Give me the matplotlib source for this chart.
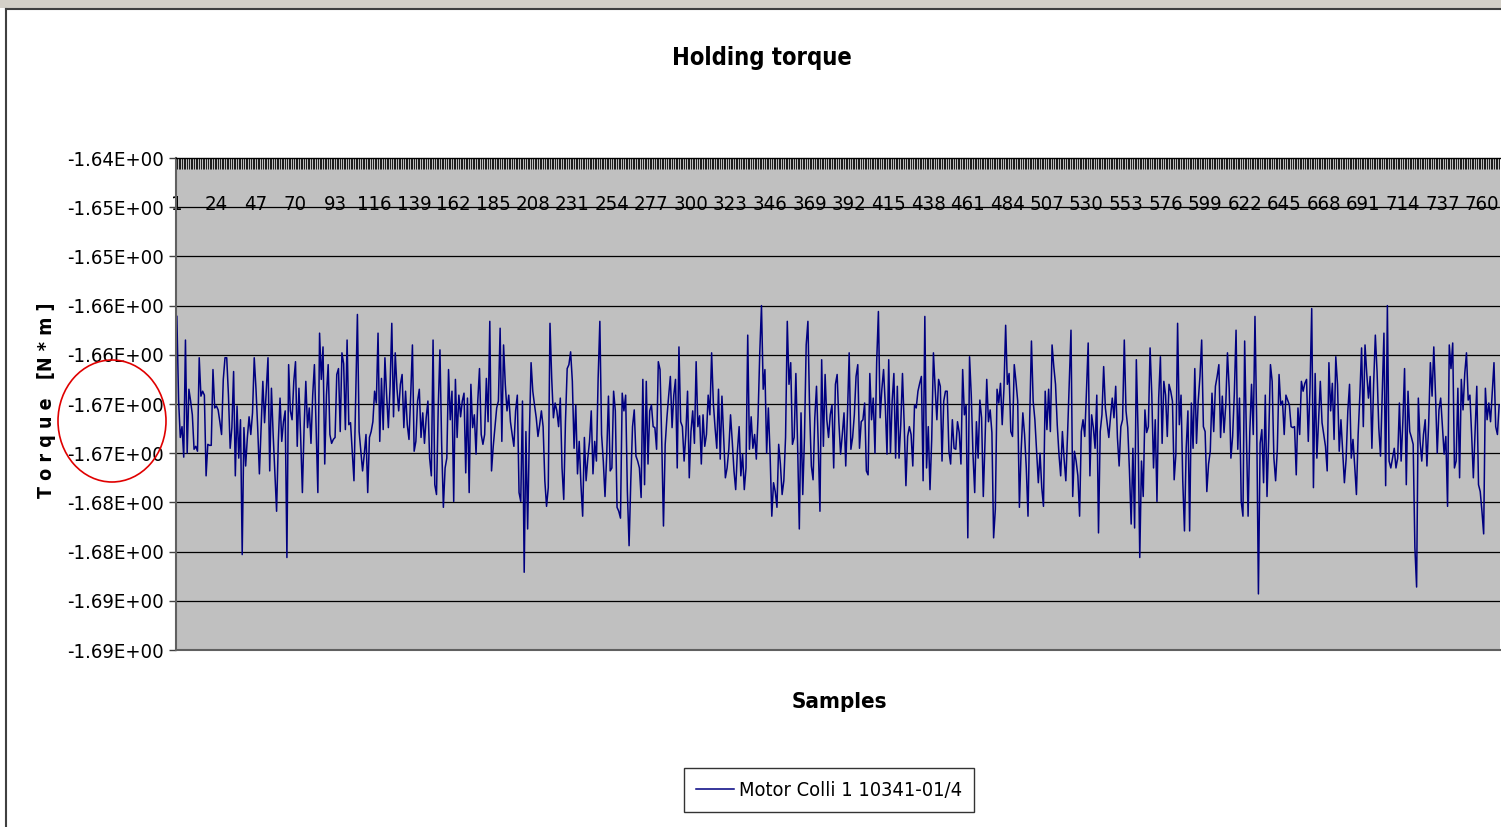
import matplotlib
matplotlib.use("Agg")
import matplotlib.pyplot as plt
from matplotlib.patches import Ellipse, Rectangle
from matplotlib.lines import Line2D
from matplotlib import font_manager

title = "Holding torque"
x_label = "Samples"
y_label = "T o r q u e   [N * m ]"
series_name = "Motor Colli 1 10341-01/4"

ytick_values = [-1.640, -1.645, -1.650, -1.655, -1.660, -1.665, -1.670, -1.675, -1.680, -1.685, -1.690]
ytick_labels = ["-1.64E+00", "-1.65E+00", "-1.65E+00", "-1.66E+00", "-1.66E+00", "-1.67E+00",
                "-1.67E+00", "-1.68E+00", "-1.68E+00", "-1.69E+00", "-1.69E+00"]
xtick_labels = [1, 24, 47, 70, 93, 116, 139, 162, 185, 208, 231, 254, 277, 300, 323, 346, 369, 392,
                415, 438, 461, 484, 507, 530, 553, 576, 599, 622, 645, 668, 691, 714, 737, 760]

torque = [
    -1.6561, -1.6646, -1.6684, -1.6673, -1.6704, -1.6585, -1.6700, -1.6635, -1.6647, -1.6661,
    -1.6696, -1.6693, -1.6698, -1.6603, -1.6642, -1.6637, -1.6641, -1.6723, -1.6691, -1.6692,
    -1.6692, -1.6615, -1.6654, -1.6652, -1.6656, -1.6668, -1.6681, -1.6625, -1.6603, -1.6603,
    -1.6641, -1.6695, -1.6674, -1.6617, -1.6723, -1.6652, -1.6705, -1.6666, -1.6803, -1.6674,
    -1.6713, -1.6684, -1.6663, -1.6681, -1.6659, -1.6603, -1.6634, -1.6674, -1.6721, -1.6674,
    -1.6627, -1.6669, -1.6637, -1.6603, -1.6718, -1.6634, -1.6681, -1.6721, -1.6759, -1.6688,
    -1.6644, -1.6688, -1.6668, -1.6657,
    -1.6806, -1.6610, -1.6657, -1.6666, -1.6627, -1.6607, -1.6693, -1.6634, -1.6684, -1.6740,
    -1.6674, -1.6627, -1.6674, -1.6654, -1.6690, -1.6641, -1.6610, -1.6674, -1.6740, -1.6578,
    -1.6625, -1.6592, -1.6711, -1.6641, -1.6610, -1.6681, -1.6690, -1.6686, -1.6684, -1.6620,
    -1.6614, -1.6678, -1.6598, -1.6609, -1.6676, -1.6585, -1.6671, -1.6669, -1.6698, -1.6728,
    -1.6642, -1.6559, -1.6678, -1.6698, -1.6718, -1.6701, -1.6681, -1.6740, -1.6684, -1.6678,
    -1.6668, -1.6637, -1.6649, -1.6578, -1.6688, -1.6624, -1.6676, -1.6603, -1.6641, -1.6674,
    -1.6632, -1.6568, -1.6663, -1.6598, -1.6634,
    -1.6657, -1.6630, -1.6620, -1.6674, -1.6637, -1.6671, -1.6686, -1.6641, -1.6590, -1.6698,
    -1.6688, -1.6647, -1.6635, -1.6684, -1.6659, -1.6690, -1.6664, -1.6647, -1.6705, -1.6723,
    -1.6585, -1.6732, -1.6742, -1.6654, -1.6595, -1.6691, -1.6755, -1.6715, -1.6705, -1.6615,
    -1.6666, -1.6637, -1.6749, -1.6625, -1.6684, -1.6641, -1.6663, -1.6647, -1.6639, -1.6720,
    -1.6644, -1.6740, -1.6630, -1.6674, -1.6661, -1.6701, -1.6647, -1.6614, -1.6681, -1.6691,
    -1.6681, -1.6624, -1.6668, -1.6566, -1.6718, -1.6693, -1.6674, -1.6654, -1.6647, -1.6573,
    -1.6688, -1.6590, -1.6630, -1.6657,
    -1.6641, -1.6668, -1.6681, -1.6693, -1.6657, -1.6641, -1.6740, -1.6749, -1.6647, -1.6821,
    -1.6678, -1.6777, -1.6681, -1.6608, -1.6637, -1.6651, -1.6664, -1.6683, -1.6671, -1.6657,
    -1.6673, -1.6728, -1.6754, -1.6735, -1.6568, -1.6624, -1.6664, -1.6649, -1.6657, -1.6673,
    -1.6644, -1.6715, -1.6747, -1.6668, -1.6614, -1.6610, -1.6597, -1.6627, -1.6695, -1.6651,
    -1.6721, -1.6688, -1.6732, -1.6764, -1.6684, -1.6728, -1.6705, -1.6688, -1.6657, -1.6721,
    -1.6688, -1.6708, -1.6624, -1.6566, -1.6681, -1.6708, -1.6744, -1.6701, -1.6642, -1.6718,
    -1.6715, -1.6637, -1.6657,
    -1.6755, -1.6759, -1.6766, -1.6639, -1.6657, -1.6641, -1.6739, -1.6794, -1.6728, -1.6673,
    -1.6656, -1.6703, -1.6708, -1.6715, -1.6745, -1.6625, -1.6732, -1.6627, -1.6711, -1.6657,
    -1.6651, -1.6673, -1.6674, -1.6696, -1.6607, -1.6615, -1.6688, -1.6774, -1.6691, -1.6664,
    -1.6642, -1.6622, -1.6674, -1.6641, -1.6625, -1.6715, -1.6592, -1.6668, -1.6673, -1.6708,
    -1.6681, -1.6637, -1.6725, -1.6678, -1.6657, -1.6690, -1.6607, -1.6673, -1.6662, -1.6711,
    -1.6661, -1.6693, -1.6681, -1.6641, -1.6661, -1.6598, -1.6649, -1.6674, -1.6695, -1.6635,
    -1.6706, -1.6642, -1.6684, -1.6725,
    -1.6715, -1.6696, -1.6661, -1.6688, -1.6718, -1.6737, -1.6698, -1.6673, -1.6723, -1.6701,
    -1.6737, -1.6715, -1.6580, -1.6696, -1.6663, -1.6695, -1.6681, -1.6706, -1.6663, -1.6598,
    -1.6550, -1.6635, -1.6615, -1.6700, -1.6654, -1.6701, -1.6764, -1.6730, -1.6739, -1.6755,
    -1.6691, -1.6711, -1.6742, -1.6728, -1.6684, -1.6566, -1.6630, -1.6608, -1.6691, -1.6684,
    -1.6619, -1.6691, -1.6777, -1.6659, -1.6742, -1.6684, -1.6590, -1.6566, -1.6657, -1.6713,
    -1.6727, -1.6664, -1.6632, -1.6690, -1.6759, -1.6605, -1.6693, -1.6620, -1.6666, -1.6684,
    -1.6661, -1.6651, -1.6715, -1.6630,
    -1.6620, -1.6668, -1.6701, -1.6681, -1.6659, -1.6713, -1.6661, -1.6598, -1.6696, -1.6684,
    -1.6661, -1.6622, -1.6610, -1.6695, -1.6668, -1.6666, -1.6649, -1.6718, -1.6722, -1.6619,
    -1.6666, -1.6644, -1.6700, -1.6607, -1.6556, -1.6664, -1.6635, -1.6615, -1.6651, -1.6701,
    -1.6605, -1.6700, -1.6647, -1.6619, -1.6705, -1.6632, -1.6705, -1.6671, -1.6619, -1.6671,
    -1.6733, -1.6683, -1.6673, -1.6681, -1.6713, -1.6651, -1.6654, -1.6637, -1.6629, -1.6622,
    -1.6728, -1.6561, -1.6715, -1.6673, -1.6737, -1.6686, -1.6598, -1.6634, -1.6666, -1.6625,
    -1.6632, -1.6708, -1.6647, -1.6637,
    -1.6637, -1.6698, -1.6711, -1.6666, -1.6695, -1.6696, -1.6668, -1.6679, -1.6711, -1.6615,
    -1.6661, -1.6651, -1.6786, -1.6602, -1.6641, -1.6701, -1.6740, -1.6668, -1.6705, -1.6646,
    -1.6664, -1.6744, -1.6688, -1.6625, -1.6668, -1.6656, -1.6679, -1.6786, -1.6757, -1.6635,
    -1.6649, -1.6629, -1.6671, -1.6635, -1.6570, -1.6630, -1.6619, -1.6678, -1.6683, -1.6610,
    -1.6627, -1.6647, -1.6755, -1.6698, -1.6659, -1.6681, -1.6715, -1.6764, -1.6664, -1.6586,
    -1.6647, -1.6666, -1.6698, -1.6730, -1.6700, -1.6735, -1.6754, -1.6637, -1.6676, -1.6635,
    -1.6678, -1.6590, -1.6612, -1.6630,
    -1.6671, -1.6701, -1.6723, -1.6678, -1.6706, -1.6728, -1.6681, -1.6627, -1.6575, -1.6744,
    -1.6698, -1.6708, -1.6723, -1.6764, -1.6678, -1.6666, -1.6683, -1.6637, -1.6588, -1.6723,
    -1.6661, -1.6674, -1.6695, -1.6641, -1.6781, -1.6678, -1.6661, -1.6612, -1.6654, -1.6669,
    -1.6684, -1.6663, -1.6644, -1.6664, -1.6632, -1.6684, -1.6713, -1.6673, -1.6666, -1.6585,
    -1.6657, -1.6674, -1.6718, -1.6772, -1.6695, -1.6776, -1.6605, -1.6678, -1.6806, -1.6708,
    -1.6744, -1.6656, -1.6679, -1.6673, -1.6593, -1.6641, -1.6715, -1.6666, -1.6749, -1.6644,
    -1.6602, -1.6690, -1.6627, -1.6641,
    -1.6683, -1.6630, -1.6637, -1.6647, -1.6727, -1.6701, -1.6568, -1.6671, -1.6641, -1.6728,
    -1.6779, -1.6695, -1.6657, -1.6779, -1.6649, -1.6695, -1.6614, -1.6690, -1.6647, -1.6622,
    -1.6585, -1.6673, -1.6678, -1.6739, -1.6711, -1.6698, -1.6639, -1.6678, -1.6632, -1.6622,
    -1.6610, -1.6684, -1.6642, -1.6679, -1.6651, -1.6598, -1.6634, -1.6705, -1.6683, -1.6639,
    -1.6575, -1.6696, -1.6644, -1.6749, -1.6764, -1.6586, -1.6681, -1.6764, -1.6678, -1.6630,
    -1.6681, -1.6561, -1.6668, -1.6843, -1.6690, -1.6676, -1.6730, -1.6641, -1.6744, -1.6684,
    -1.6610, -1.6627, -1.6705, -1.6728,
    -1.6696, -1.6620, -1.6651, -1.6647, -1.6681, -1.6641, -1.6646, -1.6651, -1.6673, -1.6674,
    -1.6673, -1.6722, -1.6654, -1.6681, -1.6627, -1.6637, -1.6629, -1.6625, -1.6688, -1.6634,
    -1.6553, -1.6735, -1.6619, -1.6705, -1.6666, -1.6627, -1.6669, -1.6681, -1.6693, -1.6718,
    -1.6608, -1.6657, -1.6629, -1.6686, -1.6602, -1.6630, -1.6698, -1.6666, -1.6698, -1.6730,
    -1.6706, -1.6657, -1.6630, -1.6705, -1.6686, -1.6713, -1.6742, -1.6681, -1.6641, -1.6593,
    -1.6673, -1.6590, -1.6619, -1.6644, -1.6622, -1.6695, -1.6630, -1.6580, -1.6617, -1.6674,
    -1.6703, -1.6642, -1.6578, -1.6733,
    -1.6550, -1.6708, -1.6715, -1.6705, -1.6695, -1.6715, -1.6705, -1.6649, -1.6708, -1.6668,
    -1.6614, -1.6732, -1.6637, -1.6678, -1.6684, -1.6691, -1.6796, -1.6836, -1.6644, -1.6688,
    -1.6708, -1.6681, -1.6666, -1.6713, -1.6671, -1.6608, -1.6642, -1.6592, -1.6641, -1.6700,
    -1.6656, -1.6644, -1.6673, -1.6701, -1.6683, -1.6754, -1.6590, -1.6614, -1.6588, -1.6715,
    -1.6708, -1.6634, -1.6725, -1.6625, -1.6656, -1.6619, -1.6598, -1.6646, -1.6641, -1.6681,
    -1.6725, -1.6678, -1.6632, -1.6732, -1.6739, -1.6759, -1.6782, -1.6634, -1.6666, -1.6649,
    -1.6668, -1.6637, -1.6608, -1.6673, -1.6681, -1.6651,
]

samples = list(range(1, len(torque) + 1))

# Pick a condensed face if one is installed, else a regular sans.
_names = {f.name for f in font_manager.fontManager.ttflist}
_condensed = [f for f in font_manager.fontManager.ttflist
              if "condensed" in str(f.stretch).lower() or "condensed" in f.name.lower()]
if "Liberation Sans Narrow" in _names:
    FONT = ["Liberation Sans Narrow", "DejaVu Sans"]
    STRETCH = "normal"
    SCALE = 1.05
elif any(f.name == "DejaVu Sans" for f in _condensed):
    FONT = ["DejaVu Sans"]
    STRETCH = "condensed"
    SCALE = 1.0
else:
    FONT = ["Liberation Sans", "DejaVu Sans"]
    STRETCH = "normal"
    SCALE = 0.9

W, H = 1501, 827
fig = plt.figure(figsize=(W / 100, H / 100), dpi=100)
fig.patch.set_facecolor("white")


def fp(size, weight="normal"):
    return font_manager.FontProperties(family=FONT, size=size * SCALE, weight=weight,
                                       stretch=STRETCH)


# Window-like frame
fig.add_artist(Rectangle((0, 1 - 8 / H), 1, 8 / H, transform=fig.transFigure,
                         facecolor="#D4D0C8", edgecolor="none"))
fig.add_artist(Line2D([6 / W, 1], [1 - 9 / H, 1 - 9 / H], transform=fig.transFigure,
                      color="#404040", lw=1.5))
fig.add_artist(Line2D([6 / W, 6 / W], [0, 1 - 9 / H], transform=fig.transFigure,
                      color="#404040", lw=1.5))

ax = fig.add_axes([176 / W, 1 - 650 / H, (1500 - 176) / W, (650 - 158) / H])
ax.set_facecolor("#C0C0C0")
ax.plot(samples, torque, color="#000080", lw=1.1, label=series_name)

ax.set_xlim(0.5, len(torque) + 0.5)
ax.set_ylim(-1.690, -1.640)

ax.set_yticks(ytick_values)
ax.set_yticklabels(ytick_labels, fontproperties=fp(14.6))
for yv in ytick_values[1:-1]:
    ax.axhline(yv, color="#000000", lw=0.9, zorder=1)
ax.tick_params(axis="y", direction="out", length=5, width=1, color="#404040", pad=4)

# category axis sits at the top
ax.xaxis.tick_top()
ax.set_xticks(samples, minor=True)
ax.set_xticks(xtick_labels)
ax.set_xticklabels([str(v) for v in xtick_labels], fontproperties=fp(14.6))
ax.tick_params(axis="x", which="both", direction="in", length=8, width=0.6, color="#000000",
               pad=-40, top=True, bottom=False, labeltop=True, labelbottom=False)

for side in ["left", "bottom"]:
    ax.spines[side].set_color("#606060")
    ax.spines[side].set_linewidth(1.5)
ax.spines["top"].set_color("#000000")
ax.spines["top"].set_linewidth(1.0)
ax.spines["right"].set_visible(False)

fig.text(762 / W, 1 - 58 / H, title, ha="center", va="center", fontproperties=fp(17, "bold"))
fig.text(839 / W, 1 - 702 / H, x_label, ha="center", va="center", fontproperties=fp(16, "bold"))
fig.text(47 / W, 1 - 400 / H, y_label, ha="center", va="center", rotation=90,
         fontproperties=fp(14, "bold"))

leg = fig.legend(loc="center", bbox_to_anchor=(829 / W, 1 - 790 / H), frameon=True,
                 fancybox=False, edgecolor="#000000", facecolor="white",
                 prop=fp(14.4), handlelength=1.9,
                 borderpad=0.62, handletextpad=0.25, borderaxespad=0)
leg.get_frame().set_linewidth(1.0)

fig.add_artist(Ellipse((112 / W, 1 - 421 / H), 108 / W, 122 / H, transform=fig.transFigure,
                       facecolor="none", edgecolor="#E00000", lw=1.2))

fig.savefig("out.png", dpi=100)
